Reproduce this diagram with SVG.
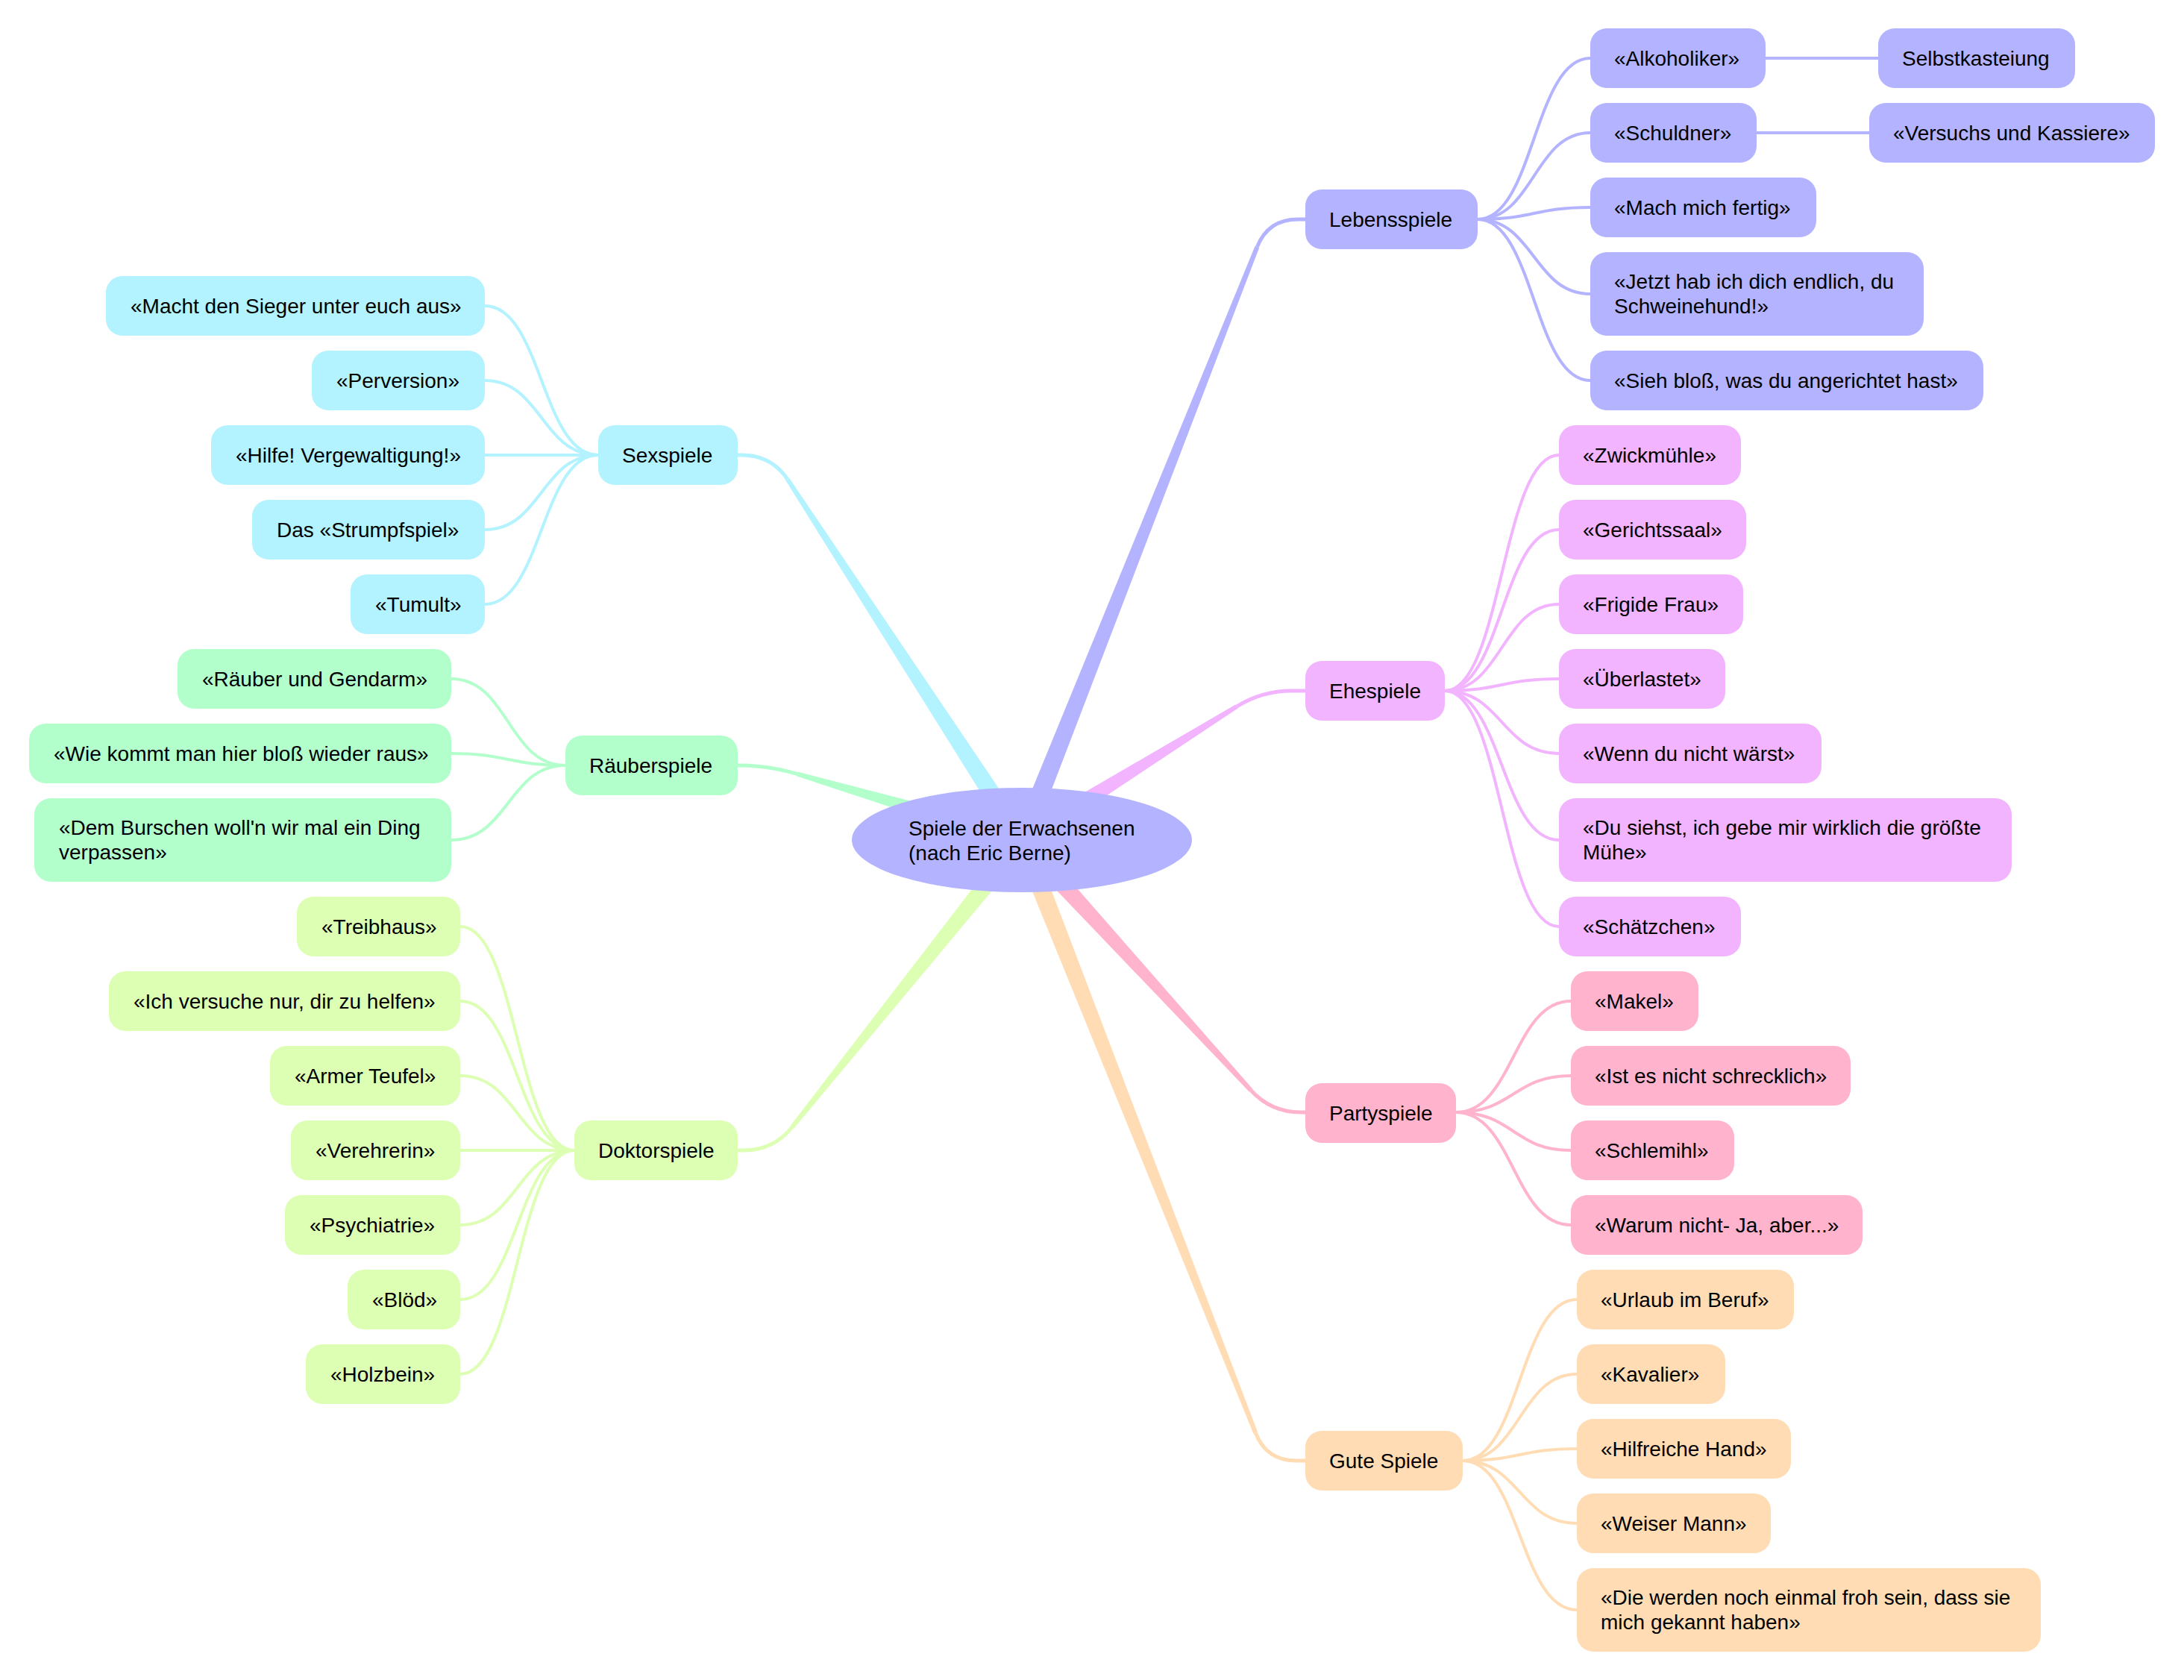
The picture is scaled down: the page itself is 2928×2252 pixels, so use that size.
<svg xmlns="http://www.w3.org/2000/svg" width="2928" height="2252" viewBox="0 0 2928 2252">
<style>
.t{font-family:"Liberation Sans",Arial,Helvetica,sans-serif;font-size:28px;fill:#000}
.e{fill:none;stroke-width:4;stroke-linecap:round}
.m{fill:none;stroke-width:5}
.s0{fill:#b3b3ff}.l0{stroke:#b3b3ff}
.s1{fill:#f2b3ff}.l1{stroke:#f2b3ff}
.s2{fill:#ffb3cc}.l2{stroke:#ffb3cc}
.s3{fill:#ffdcb3}.l3{stroke:#ffdcb3}
.s4{fill:#b3f2ff}.l4{stroke:#b3f2ff}
.s5{fill:#b3ffcc}.l5{stroke:#b3ffcc}
.s6{fill:#ddffb3}.l6{stroke:#ddffb3}
</style>
<rect width="2928" height="2252" fill="#ffffff"/>
<g id="connectors">
<polygon class="s0" points="1382.1,1130.8 1688.1,332.3 1682.5,330.1 1357.9,1121.2"/>
<path class="m l0" d="M1685.3,331.2 Q1700,294 1740,294 L1752,294"/>
<polygon class="s1" points="1376.9,1137.0 1659.6,949.6 1656.4,944.6 1363.1,1115.0"/>
<path class="m l1" d="M1658,947.1 Q1692,926 1732,926 L1752,926"/>
<polygon class="s2" points="1360.4,1134.8 1674.8,1463.5 1679.2,1459.5 1379.6,1117.2"/>
<path class="m l2" d="M1677,1461.5 Q1704,1491 1744,1491 L1752,1491"/>
<polygon class="s3" points="1357.9,1130.8 1680.5,1921.9 1686.1,1919.7 1382.1,1121.2"/>
<path class="m l3" d="M1683.3,1920.8 Q1698,1958 1738,1958 L1752,1958"/>
<polygon class="s4" points="1380.9,1118.9 1058.3,640.9 1053.3,644.1 1359.1,1133.1"/>
<path class="m l4" d="M1055.8,642.5 Q1034,610 994,610 L986,610"/>
<polygon class="s5" points="1373.7,1113.5 1069.2,1034.4 1067.6,1040.2 1366.3,1138.5"/>
<path class="m l5" d="M1068.4,1037.3 Q1030,1026 990,1026 L986,1026"/>
<polygon class="s6" points="1359.9,1117.9 1059.7,1508.9 1064.3,1512.7 1380.1,1134.1"/>
<path class="m l6" d="M1062,1510.8 Q1037,1542 997,1542 L986,1542"/>

<path class="e l0" d="M1981,294 C2056.5,294 2056.5,78 2132,78"/>
<path class="e l0" d="M1981,294 C2056.5,294 2056.5,178 2132,178"/>
<path class="e l0" d="M1981,294 C2056.5,294 2056.5,278 2132,278"/>
<path class="e l0" d="M1981,294 C2056.5,294 2056.5,394 2132,394"/>
<path class="e l0" d="M1981,294 C2056.5,294 2056.5,510 2132,510"/>
<path class="e l0" d="M2367,78 L2518,78"/>
<path class="e l0" d="M2355,178 L2506,178"/>

<path class="e l1" d="M1937,926 C2013.5,926 2013.5,610 2090,610"/>
<path class="e l1" d="M1937,926 C2013.5,926 2013.5,710 2090,710"/>
<path class="e l1" d="M1937,926 C2013.5,926 2013.5,810 2090,810"/>
<path class="e l1" d="M1937,926 C2013.5,926 2013.5,910 2090,910"/>
<path class="e l1" d="M1937,926 C2013.5,926 2013.5,1010 2090,1010"/>
<path class="e l1" d="M1937,926 C2013.5,926 2013.5,1126 2090,1126"/>
<path class="e l1" d="M1937,926 C2013.5,926 2013.5,1242 2090,1242"/>

<path class="e l2" d="M1952,1491 C2029,1491 2029,1342 2106,1342"/>
<path class="e l2" d="M1952,1491 C2029,1491 2029,1442 2106,1442"/>
<path class="e l2" d="M1952,1491 C2029,1491 2029,1542 2106,1542"/>
<path class="e l2" d="M1952,1491 C2029,1491 2029,1642 2106,1642"/>

<path class="e l3" d="M1961,1958 C2037.5,1958 2037.5,1742 2114,1742"/>
<path class="e l3" d="M1961,1958 C2037.5,1958 2037.5,1842 2114,1842"/>
<path class="e l3" d="M1961,1958 C2037.5,1958 2037.5,1942 2114,1942"/>
<path class="e l3" d="M1961,1958 C2037.5,1958 2037.5,2042 2114,2042"/>
<path class="e l3" d="M1961,1958 C2037.5,1958 2037.5,2158 2114,2158"/>

<path class="e l4" d="M802,610 C726,610 726,410 650,410"/>
<path class="e l4" d="M802,610 C726,610 726,510 650,510"/>
<path class="e l4" d="M802,610 C726,610 726,610 650,610"/>
<path class="e l4" d="M802,610 C726,610 726,710 650,710"/>
<path class="e l4" d="M802,610 C726,610 726,810 650,810"/>

<path class="e l5" d="M758,1026 C681.5,1026 681.5,910 605,910"/>
<path class="e l5" d="M758,1026 C681.5,1026 681.5,1010 605,1010"/>
<path class="e l5" d="M758,1026 C681.5,1026 681.5,1126 605,1126"/>

<path class="e l6" d="M770,1542 C693.5,1542 693.5,1242 617,1242"/>
<path class="e l6" d="M770,1542 C693.5,1542 693.5,1342 617,1342"/>
<path class="e l6" d="M770,1542 C693.5,1542 693.5,1442 617,1442"/>
<path class="e l6" d="M770,1542 C693.5,1542 693.5,1542 617,1542"/>
<path class="e l6" d="M770,1542 C693.5,1542 693.5,1642 617,1642"/>
<path class="e l6" d="M770,1542 C693.5,1542 693.5,1742 617,1742"/>
<path class="e l6" d="M770,1542 C693.5,1542 693.5,1842 617,1842"/>
</g>

<g id="root"><ellipse class="s0" cx="1370" cy="1126" rx="228" ry="70"/><text class="t" x="1218" y="1120">Spiele der Erwachsenen</text><text class="t" x="1218" y="1153">(nach Eric Berne)</text></g>

<g id="n-lebensspiele"><rect class="s0" x="1750" y="254" width="231" height="80" rx="22"/><text class="t" x="1782" y="304">Lebensspiele</text></g>
<g id="n-alkoholiker"><rect class="s0" x="2132" y="38" width="235" height="80" rx="22"/><text class="t" x="2164" y="88">«Alkoholiker»</text></g>
<g id="n-selbstkasteiung"><rect class="s0" x="2518" y="38" width="264" height="80" rx="22"/><text class="t" x="2550" y="88">Selbstkasteiung</text></g>
<g id="n-schuldner"><rect class="s0" x="2132" y="138" width="223" height="80" rx="22"/><text class="t" x="2164" y="188">«Schuldner»</text></g>
<g id="n-versuchs"><rect class="s0" x="2506" y="138" width="383" height="80" rx="22"/><text class="t" x="2538" y="188">«Versuchs und Kassiere»</text></g>
<g id="n-mach"><rect class="s0" x="2132" y="238" width="303" height="80" rx="22"/><text class="t" x="2164" y="288">«Mach mich fertig»</text></g>
<g id="n-jetzt"><rect class="s0" x="2132" y="338" width="447" height="112" rx="22"/><text class="t" x="2164" y="387">«Jetzt hab ich dich endlich, du</text><text class="t" x="2164" y="420">Schweinehund!»</text></g>
<g id="n-sieh"><rect class="s0" x="2132" y="470" width="527" height="80" rx="22"/><text class="t" x="2164" y="520">«Sieh bloß, was du angerichtet hast»</text></g>

<g id="n-ehespiele"><rect class="s1" x="1750" y="886" width="187" height="80" rx="22"/><text class="t" x="1782" y="936">Ehespiele</text></g>
<g id="n-zwick"><rect class="s1" x="2090" y="570" width="244" height="80" rx="22"/><text class="t" x="2122" y="620">«Zwickmühle»</text></g>
<g id="n-gericht"><rect class="s1" x="2090" y="670" width="251" height="80" rx="22"/><text class="t" x="2122" y="720">«Gerichtssaal»</text></g>
<g id="n-frigide"><rect class="s1" x="2090" y="770" width="247" height="80" rx="22"/><text class="t" x="2122" y="820">«Frigide Frau»</text></g>
<g id="n-ueberlastet"><rect class="s1" x="2090" y="870" width="223" height="80" rx="22"/><text class="t" x="2122" y="920">«Überlastet»</text></g>
<g id="n-wenn"><rect class="s1" x="2090" y="970" width="352" height="80" rx="22"/><text class="t" x="2122" y="1020">«Wenn du nicht wärst»</text></g>
<g id="n-dusiehst"><rect class="s1" x="2090" y="1070" width="607" height="112" rx="22"/><text class="t" x="2122" y="1119">«Du siehst, ich gebe mir wirklich die größte</text><text class="t" x="2122" y="1152">Mühe»</text></g>
<g id="n-schaetzchen"><rect class="s1" x="2090" y="1202" width="244" height="80" rx="22"/><text class="t" x="2122" y="1252">«Schätzchen»</text></g>

<g id="n-partyspiele"><rect class="s2" x="1750" y="1452" width="202" height="80" rx="22"/><text class="t" x="1782" y="1502">Partyspiele</text></g>
<g id="n-makel"><rect class="s2" x="2106" y="1302" width="171" height="80" rx="22"/><text class="t" x="2138" y="1352">«Makel»</text></g>
<g id="n-schrecklich"><rect class="s2" x="2106" y="1402" width="375" height="80" rx="22"/><text class="t" x="2138" y="1452">«Ist es nicht schrecklich»</text></g>
<g id="n-schlemihl"><rect class="s2" x="2106" y="1502" width="219" height="80" rx="22"/><text class="t" x="2138" y="1552">«Schlemihl»</text></g>
<g id="n-warum"><rect class="s2" x="2106" y="1602" width="391" height="80" rx="22"/><text class="t" x="2138" y="1652">«Warum nicht- Ja, aber...»</text></g>

<g id="n-gute"><rect class="s3" x="1750" y="1918" width="211" height="80" rx="22"/><text class="t" x="1782" y="1968">Gute Spiele</text></g>
<g id="n-urlaub"><rect class="s3" x="2114" y="1702" width="291" height="80" rx="22"/><text class="t" x="2146" y="1752">«Urlaub im Beruf»</text></g>
<g id="n-kavalier"><rect class="s3" x="2114" y="1802" width="199" height="80" rx="22"/><text class="t" x="2146" y="1852">«Kavalier»</text></g>
<g id="n-hilfreiche"><rect class="s3" x="2114" y="1902" width="287" height="80" rx="22"/><text class="t" x="2146" y="1952">«Hilfreiche Hand»</text></g>
<g id="n-weiser"><rect class="s3" x="2114" y="2002" width="260" height="80" rx="22"/><text class="t" x="2146" y="2052">«Weiser Mann»</text></g>
<g id="n-diewerden"><rect class="s3" x="2114" y="2102" width="622" height="112" rx="22"/><text class="t" x="2146" y="2151">«Die werden noch einmal froh sein, dass sie</text><text class="t" x="2146" y="2184">mich gekannt haben»</text></g>

<g id="n-sexspiele"><rect class="s4" x="802" y="570" width="187" height="80" rx="22"/><text class="t" x="834" y="620">Sexspiele</text></g>
<g id="n-macht"><rect class="s4" x="142" y="370" width="508" height="80" rx="22"/><text class="t" x="175" y="420">«Macht den Sieger unter euch aus»</text></g>
<g id="n-perversion"><rect class="s4" x="418" y="470" width="232" height="80" rx="22"/><text class="t" x="451" y="520">«Perversion»</text></g>
<g id="n-hilfe"><rect class="s4" x="283" y="570" width="367" height="80" rx="22"/><text class="t" x="316" y="620">«Hilfe! Vergewaltigung!»</text></g>
<g id="n-strumpf"><rect class="s4" x="338" y="670" width="312" height="80" rx="22"/><text class="t" x="371" y="720">Das «Strumpfspiel»</text></g>
<g id="n-tumult"><rect class="s4" x="470" y="770" width="180" height="80" rx="22"/><text class="t" x="503" y="820">«Tumult»</text></g>

<g id="n-raeuberspiele"><rect class="s5" x="758" y="986" width="231" height="80" rx="22"/><text class="t" x="790" y="1036">Räuberspiele</text></g>
<g id="n-gendarm"><rect class="s5" x="238" y="870" width="367" height="80" rx="22"/><text class="t" x="271" y="920">«Räuber und Gendarm»</text></g>
<g id="n-wiekommt"><rect class="s5" x="39" y="970" width="566" height="80" rx="22"/><text class="t" x="72" y="1020">«Wie kommt man hier bloß wieder raus»</text></g>
<g id="n-burschen"><rect class="s5" x="46" y="1070" width="559" height="112" rx="22"/><text class="t" x="79" y="1119">«Dem Burschen woll'n wir mal ein Ding</text><text class="t" x="79" y="1152">verpassen»</text></g>

<g id="n-doktorspiele"><rect class="s6" x="770" y="1502" width="219" height="80" rx="22"/><text class="t" x="802" y="1552">Doktorspiele</text></g>
<g id="n-treibhaus"><rect class="s6" x="398" y="1202" width="219" height="80" rx="22"/><text class="t" x="431" y="1252">«Treibhaus»</text></g>
<g id="n-helfen"><rect class="s6" x="146" y="1302" width="471" height="80" rx="22"/><text class="t" x="179" y="1352">«Ich versuche nur, dir zu helfen»</text></g>
<g id="n-teufel"><rect class="s6" x="362" y="1402" width="255" height="80" rx="22"/><text class="t" x="395" y="1452">«Armer Teufel»</text></g>
<g id="n-verehrerin"><rect class="s6" x="390" y="1502" width="227" height="80" rx="22"/><text class="t" x="423" y="1552">«Verehrerin»</text></g>
<g id="n-psychiatrie"><rect class="s6" x="382" y="1602" width="235" height="80" rx="22"/><text class="t" x="415" y="1652">«Psychiatrie»</text></g>
<g id="n-bloed"><rect class="s6" x="466" y="1702" width="151" height="80" rx="22"/><text class="t" x="499" y="1752">«Blöd»</text></g>
<g id="n-holzbein"><rect class="s6" x="410" y="1802" width="207" height="80" rx="22"/><text class="t" x="443" y="1852">«Holzbein»</text></g>
</svg>
